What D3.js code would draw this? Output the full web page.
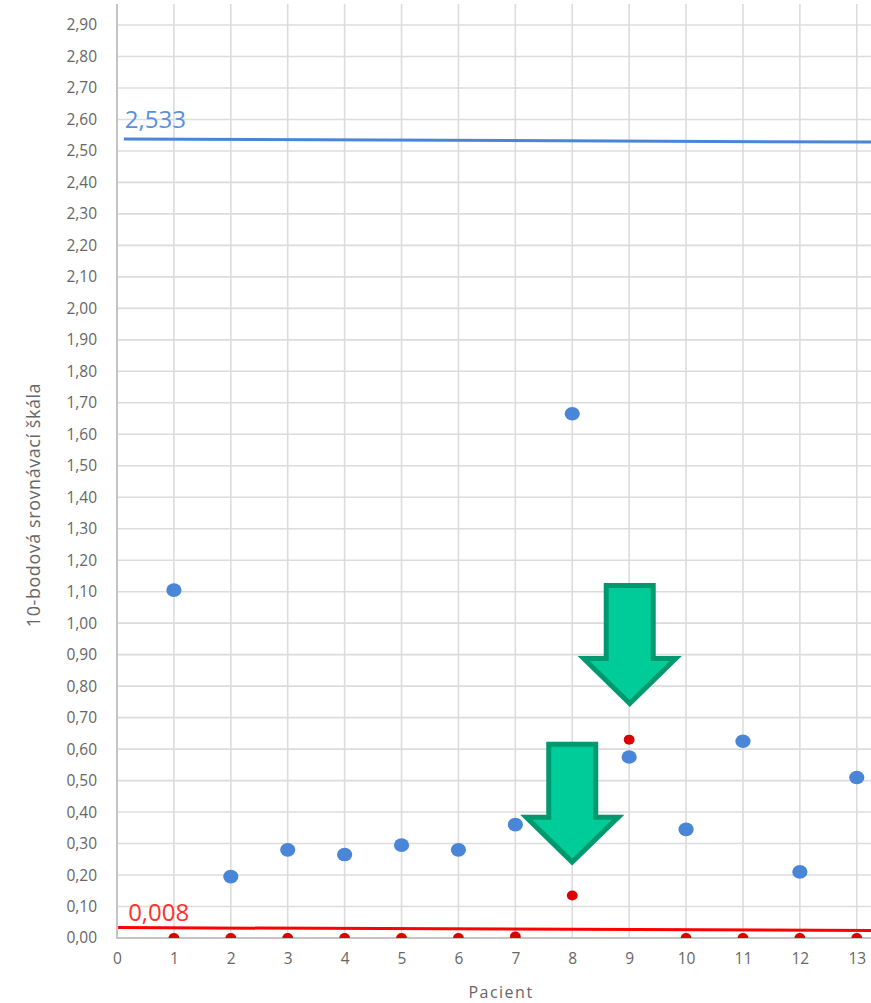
<!DOCTYPE html>
<html lang="cs">
<head>
<meta charset="utf-8">
<title>10-bodová srovnávací škála</title>
<script src="https://cdn.jsdelivr.net/npm/d3@7"></script>
<style>
  html, body { margin: 0; padding: 0; background: #fff; }
  svg { display: block; }
  text { font-family: "Open Sans", sans-serif; }
</style>
</head>
<body>
<svg id="chart" width="871" height="1003"></svg>
<script>
// Patient numbers and the two measured series
const patients = [1, 2, 3, 4, 5, 6, 7, 8, 9, 10, 11, 12, 13];
const blueValues = [1.105, 0.195, 0.28, 0.265, 0.295, 0.28, 0.36, 1.665, 0.575, 0.345, 0.625, 0.21, 0.51];
const redValues = [0, 0, 0, 0, 0, 0, 0.005, 0.135, 0.63, 0, 0, 0, 0];

// Axis ticks
const xTicks = [0, 1, 2, 3, 4, 5, 6, 7, 8, 9, 10, 11, 12, 13];
const yTicks = d3.range(0, 30).map(i => i / 10);

// Limit lines, with the figure printed above each
const blueLimit = [[0.12, 2.538], [13.25, 2.528]];
const redLimit = [[0.02, 0.033], [13.25, 0.024]];
const blueLimitLabel = "2,533";
const redLimitLabel = "0,008";

// Where the two arrows point: [patient, value]
const arrowTips = [[9.01, 0.745], [8, 0.241]];

const width = 871, height = 1003;
const plot = { left: 117, right: 871, top: 4, bottom: 938 };

const x = d3.scaleLinear().domain([0, 13.25]).range([plot.left, plot.right]);
const y = d3.scaleLinear().domain([0, 2.9]).range([plot.bottom, 25]);

const svg = d3.select("#chart");
const gridColor = "#dcdcdc";
const axisColor = "#c4c4c4";
const textColor = "#666666";

svg.append("defs").append("clipPath").attr("id", "plot-clip")
  .append("rect")
  .attr("x", plot.left).attr("y", plot.top)
  .attr("width", plot.right - plot.left).attr("height", plot.bottom - plot.top);

// Gridlines
svg.append("g").selectAll("line").data(yTicks.slice(1)).join("line")
  .attr("x1", plot.left).attr("x2", plot.right)
  .attr("y1", d => y(d)).attr("y2", d => y(d))
  .attr("stroke", gridColor).attr("stroke-width", 1.6);

svg.append("g").selectAll("line").data(xTicks.slice(1)).join("line")
  .attr("x1", d => x(d)).attr("x2", d => x(d))
  .attr("y1", plot.top).attr("y2", plot.bottom)
  .attr("stroke", gridColor).attr("stroke-width", 1.6);

// Axes
const xAxis = svg.append("g")
  .attr("transform", `translate(0,${plot.bottom})`)
  .call(d3.axisBottom(x).tickValues(xTicks).tickSize(0).tickPadding(15).tickFormat(d3.format("d")));
const yAxis = svg.append("g")
  .attr("transform", `translate(${plot.left},0)`)
  .call(d3.axisLeft(y).tickValues(yTicks).tickSize(0).tickPadding(20)
    .tickFormat(d => d3.format(".2f")(d).replace(".", ",")));

[xAxis, yAxis].forEach(a => {
  a.selectAll("text").attr("fill", textColor).style("font-size", "15.5px")
    .style("font-family", '"Open Sans", sans-serif');
  a.select(".domain").remove();
});

// Axis lines run the full height and width of the plot
svg.append("line")
  .attr("x1", plot.left).attr("x2", plot.left)
  .attr("y1", plot.top).attr("y2", plot.bottom + 1)
  .attr("stroke", axisColor).attr("stroke-width", 2);
svg.append("line")
  .attr("x1", plot.left).attr("x2", plot.right)
  .attr("y1", plot.bottom).attr("y2", plot.bottom)
  .attr("stroke", axisColor).attr("stroke-width", 2);

// Axis titles
svg.append("text")
  .attr("transform", `translate(40,505) rotate(-90)`)
  .attr("text-anchor", "middle")
  .attr("fill", textColor).style("font-size", "18px").style("letter-spacing", "0.55px")
  .text("10-bodová srovnávací škála");

svg.append("text")
  .attr("x", 501).attr("y", 998)
  .attr("text-anchor", "middle")
  .attr("fill", textColor).style("font-size", "16px").style("letter-spacing", "1.5px")
  .text("Pacient");

// Limit lines
const line = d3.line().x(d => x(d[0])).y(d => y(d[1]));
svg.append("path").datum(blueLimit).attr("d", line)
  .attr("fill", "none").attr("stroke", "#4a86d8").attr("stroke-width", 3);
svg.append("path").datum(redLimit).attr("d", line)
  .attr("fill", "none").attr("stroke", "#ff0000").attr("stroke-width", 3);

svg.append("text")
  .attr("x", x(blueLimit[0][0]) + 1).attr("y", y(blueLimit[0][1]) - 11)
  .attr("fill", "#5a8fe0").style("font-size", "24px")
  .text(blueLimitLabel);
svg.append("text")
  .attr("x", x(redLimit[0][0]) + 10).attr("y", y(redLimit[0][1]) - 7)
  .attr("fill", "#ff3030").style("font-size", "24px")
  .text(redLimitLabel);

// Patient points; the ones at zero are cut off by the axis
const points = svg.append("g").attr("clip-path", "url(#plot-clip)");

points.append("g").selectAll("ellipse").data(patients).join("ellipse")
  .attr("cx", d => x(d))
  .attr("cy", (d, i) => y(blueValues[i]))
  .attr("rx", 7.6).attr("ry", 6.8)
  .attr("fill", "#4a86d8");

points.append("g").selectAll("ellipse").data(patients).join("ellipse")
  .attr("cx", d => x(d))
  .attr("cy", (d, i) => y(redValues[i]))
  .attr("rx", 5.4).attr("ry", 5)
  .attr("fill", "#dc0000");

// Block arrows, drawn from their tip upward
const arrowShape = d3.line();
svg.append("g").selectAll("path").data(arrowTips).join("path")
  .attr("transform", d => `translate(${x(d[0])},${y(d[1])})`)
  .attr("d", arrowShape([[0, 0], [-46, -45], [-23.5, -45], [-23.5, -118], [23.5, -118], [23.5, -45], [46, -45]]) + "Z")
  .attr("fill", "#00cc99").attr("stroke", "#00996f").attr("stroke-width", 5)
  .attr("stroke-linejoin", "miter").attr("stroke-miterlimit", 10);
</script>
</body>
</html>
